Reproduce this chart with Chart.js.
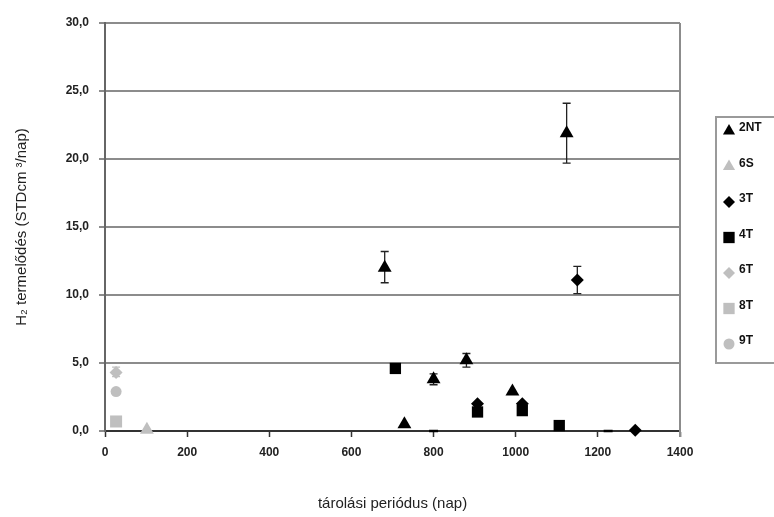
<!DOCTYPE html>
<html>
<head>
<meta charset="utf-8">
<script src="https://cdn.jsdelivr.net/npm/chart.js@4/dist/chart.umd.min.js"></script>
<style>
    html, body { margin: 0; padding: 0; background: #fff; }
    #wrap { width: 774px; height: 517px; position: relative; }
</style>
</head>
<body>
<div id="wrap"><canvas id="chart" width="774" height="517"></canvas></div>
<script>
// series
const seriesNames = ['2NT', '6S', '3T', '4T', '6T', '8T', '9T'];

const x2NT = [681, 729, 800, 880, 992, 1124];
const y2NT = [12.0, 0.5, 3.8, 5.2, 2.9, 21.9];
const lo2NT = [10.9, null, 3.4, 4.7, null, 19.7];
const hi2NT = [13.2, null, 4.2, 5.7, null, 24.1];

const x6S = [102];
const y6S = [0.1];

const x3T = [907, 1016, 1150, 1291];
const y3T = [2.0, 2.0, 11.1, 0.05];
const lo3T = [null, null, 10.1, null];
const hi3T = [null, null, 12.1, null];

const x4T = [707, 907, 1016, 1106, 800, 1225];
const y4T = [4.6, 1.4, 1.5, 0.4, 0, 0];

const x6T = [27];
const y6T = [4.3];
const lo6T = [4.0];
const hi6T = [4.7];

const x8T = [27];
const y8T = [0.7];

const x9T = [27];
const y9T = [2.9];

const xTicks = [0, 200, 400, 600, 800, 1000, 1200, 1400];
const yTicks = [0, 5, 10, 15, 20, 25, 30];

const BLACK = '#000000';
const GRAY = '#bfbfbf';
const FONT = '"Liberation Sans", Arial, sans-serif';

function pts(xs, ys, lo, hi) {
    return xs.map(function(x, i) {
        return { x: x, y: ys[i], lo: lo ? lo[i] : null, hi: hi ? hi[i] : null };
    });
}

function ds(label, data, color, style, radius, legendRadius) {
    return {
        label: label,
        data: data,
        backgroundColor: color,
        borderColor: color,
        borderWidth: 0,
        pointStyle: style,
        pointRadius: radius,
        pointHoverRadius: radius,
        legendRadius: legendRadius,
        legendStyle: style,
        showLine: false,
        clip: false
    };
}

const datasets = [
    ds('2NT', pts(x2NT, y2NT, lo2NT, hi2NT), BLACK, 'triangle', 8, 7),
    ds('6S', pts(x6S, y6S), GRAY, 'triangle', 8, 7),
    ds('3T', pts(x3T, y3T, lo3T, hi3T), BLACK, 'rectRot', 6.5, 6),
    ds('4T', pts(x4T, y4T), BLACK, 'rect', 8, 8),
    ds('6T', pts(x6T, y6T, lo6T, hi6T), GRAY, 'rectRot', 6.5, 6),
    ds('8T', pts(x8T, y8T), GRAY, 'rect', 8.5, 8),
    ds('9T', pts(x9T, y9T), GRAY, 'circle', 5.5, 5.5)
];

// flattened markers sitting on the axis
datasets[3].pointStyle = function(ctx) {
    const p = ctx.raw;
    return p && p.y === 0 ? 'line' : 'rect';
};
datasets[3].borderWidth = function(ctx) {
    const p = ctx.raw;
    return p && p.y === 0 ? 2.5 : 0;
};
datasets[3].pointRadius = function(ctx) {
    const p = ctx.raw;
    return p && p.y === 0 ? 4.5 : 8;
};

// error bars, drawn under the markers
const errorBars = {
    id: 'errorBars',
    beforeDatasetsDraw(chart) {
        const ctx = chart.ctx;
        const xs = chart.scales.x, ys = chart.scales.y;
        ctx.save();
        chart.data.datasets.forEach(function(d) {
            ctx.strokeStyle = d.borderColor === BLACK ? '#222' : d.borderColor;
            ctx.lineWidth = 1.3;
            d.data.forEach(function(p) {
                if (p.lo == null || p.hi == null) return;
                const px = xs.getPixelForValue(p.x);
                const top = ys.getPixelForValue(p.hi);
                const bot = ys.getPixelForValue(p.lo);
                ctx.beginPath();
                ctx.moveTo(px, top); ctx.lineTo(px, bot);
                ctx.moveTo(px - 4, top); ctx.lineTo(px + 4, top);
                ctx.moveTo(px - 4, bot); ctx.lineTo(px + 4, bot);
                ctx.stroke();
            });
        });
        ctx.restore();
    }
};

// right frame line of the plot
const frame = {
    id: 'frame',
    beforeDatasetsDraw(chart) {
        const a = chart.chartArea, ctx = chart.ctx;
        ctx.save();
        ctx.strokeStyle = '#8c8c8c';
        ctx.lineWidth = 2;
        ctx.beginPath();
        ctx.moveTo(a.right, a.top);
        ctx.lineTo(a.right, a.bottom + 6);
        ctx.stroke();
        ctx.restore();
    }
};

// boxed legend on the right, partly cut by the edge
const boxLegend = {
    id: 'boxLegend',
    afterDraw(chart) {
        const ctx = chart.ctx;
        const left = 716, top = 117, bottom = 363;
        ctx.save();
        ctx.fillStyle = '#fff';
        ctx.fillRect(left, top, 80, bottom - top);
        ctx.strokeStyle = '#9a9a9a';
        ctx.lineWidth = 2;
        ctx.strokeRect(left, top, 80, bottom - top);
        ctx.font = 'bold 12px ' + FONT;
        ctx.textBaseline = 'middle';
        chart.data.datasets.forEach(function(d, i) {
            const y = 131 + i * 35.5;
            ctx.fillStyle = d.backgroundColor;
            ctx.strokeStyle = d.backgroundColor;
            Chart.helpers.drawPoint(ctx, {
                pointStyle: d.legendStyle,
                radius: d.legendRadius,
                rotation: 0,
                borderWidth: 0
            }, 729, y);
            ctx.fillStyle = '#111';
            ctx.fillText(d.label, 739, y - 3);
        });
        ctx.restore();
    }
};

const ctx = document.getElementById('chart').getContext('2d');
const chart = new Chart(ctx, {
    type: 'scatter',
    data: { datasets: datasets },
    plugins: [frame, errorBars, boxLegend],
    options: {
        responsive: false,
        animation: false,
        events: [],
        layout: { padding: { top: 23, right: 94, left: 0, bottom: 0 } },
        plugins: {
            legend: { display: false },
            tooltip: { enabled: false }
        },
        scales: {
            x: {
                type: 'linear',
                min: 0,
                max: 1400,
                afterFit: function(s) { s.height = 86; },
                afterBuildTicks: function(s) { s.ticks = xTicks.map(function(v) { return { value: v }; }); },
                ticks: {
                    color: '#222',
                    font: { family: FONT, size: 12, weight: 'bold' },
                    padding: 8,
                    callback: function(v) { return String(v); }
                },
                grid: {
                    drawOnChartArea: false,
                    drawTicks: true,
                    tickLength: 6,
                    tickColor: '#333',
                    tickWidth: 1.5
                },
                border: { color: '#333', width: 2 },
                title: {
                    display: true,
                    text: 'tárolási periódus (nap)',
                    color: '#222',
                    font: { family: FONT, size: 15 },
                    padding: { top: 0, bottom: 4 }
                }
            },
            y: {
                type: 'linear',
                min: 0,
                max: 30,
                afterFit: function(s) { s.width = 105; },
                afterBuildTicks: function(s) { s.ticks = yTicks.map(function(v) { return { value: v }; }); },
                ticks: {
                    color: '#222',
                    font: { family: FONT, size: 12, weight: 'bold' },
                    padding: 10,
                    callback: function(v) { return v.toFixed(1).replace('.', ','); }
                },
                grid: {
                    color: '#8c8c8c',
                    lineWidth: 2,
                    drawTicks: true,
                    tickLength: 6,
                    tickColor: '#666',
                    tickWidth: 1.5
                },
                border: { color: '#666', width: 2 },
                title: {
                    display: true,
                    text: 'H₂ termelődés (STDcm ³/nap)',
                    color: '#222',
                    font: { family: FONT, size: 15 },
                    padding: { top: 13, bottom: 0 }
                }
            }
        }
    }
});
</script>
</body>
</html>
